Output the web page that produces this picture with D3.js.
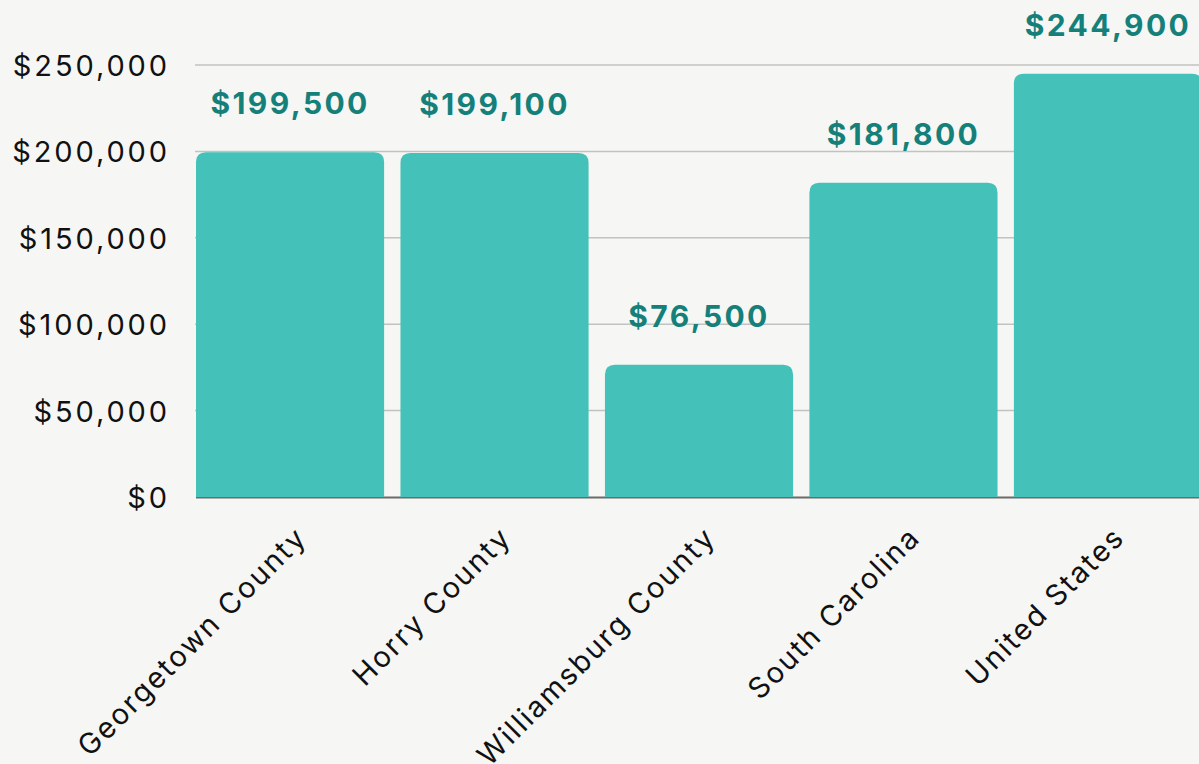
<!DOCTYPE html>
<html>
<head>
<meta charset="utf-8">
<script src="https://cdn.jsdelivr.net/npm/d3@7"></script>
<style>
  html, body { margin: 0; padding: 0; background: #f6f7f4; overflow: hidden; }
  svg { display: block; }
</style>
</head>
<body>
<div id="chart"></div>
<script>
// chart values
var places = ["Georgetown County", "Horry County", "Williamsburg County", "South Carolina", "United States"];
var medianValues = [199500, 199100, 76500, 181800, 244900];
var yTicks = [0, 50000, 100000, 150000, 200000, 250000];

var width = 1199;
var height = 764;

var margin = { top: 65, right: -3, bottom: 267, left: 196 };

var chartWidth = width - margin.left - margin.right;
var chartHeight = height - margin.top - margin.bottom;

var svg = d3.select("#chart")
  .append("svg")
  .attr("width", width)
  .attr("height", height);

svg.append("rect")
  .attr("width", width)
  .attr("height", height)
  .attr("fill", "#f6f7f4");

var chartGroup = svg.append("g")
  .attr("transform", `translate(${margin.left}, ${margin.top})`);

var x = d3.scaleBand()
  .domain(places)
  .range([0, chartWidth])
  .paddingInner(0.08)
  .paddingOuter(0);

var y = d3.scaleLinear()
  .domain([0, 250000])
  .range([chartHeight, 0]);

var money = d3.format("$,");

// gridlines
chartGroup.selectAll(".grid")
  .data(yTicks.filter(function(d) { return d > 0; }))
  .enter()
  .append("line")
  .attr("class", "grid")
  .attr("x1", -1)
  .attr("x2", width)
  .attr("y1", function(d) { return y(d); })
  .attr("y2", function(d) { return y(d); })
  .attr("stroke", "#c2c2c0")
  .attr("stroke-width", 1.5);

// y axis labels
var yAxis = d3.axisLeft(y)
  .tickValues(yTicks)
  .tickFormat(money)
  .tickSize(0)
  .tickPadding(26);

var yAxisG = chartGroup.append("g").call(yAxis);
yAxisG.select(".domain").remove();
yAxisG.selectAll("text")
  .attr("font-family", "Inter, 'Open Sans', sans-serif")
  .attr("font-size", 29)
  .attr("letter-spacing", 2.9)
  .attr("fill", "#111")
  .attr("dy", "0.36em");

// baseline
chartGroup.append("line")
  .attr("x1", 0)
  .attr("x2", width)
  .attr("y1", chartHeight + 0.5)
  .attr("y2", chartHeight + 0.5)
  .attr("stroke", "#6b6b6b")
  .attr("stroke-width", 2);

// bars with rounded top corners
function topRounded(x0, y0, w, h, r) {
  r = Math.min(r, h, w / 2);
  return "M" + x0 + "," + (y0 + h) +
    "V" + (y0 + r) +
    "Q" + x0 + "," + y0 + " " + (x0 + r) + "," + y0 +
    "H" + (x0 + w - r) +
    "Q" + (x0 + w) + "," + y0 + " " + (x0 + w) + "," + (y0 + r) +
    "V" + (y0 + h) + "Z";
}

var data = places.map(function(p, i) { return { place: p, value: medianValues[i] }; });

chartGroup.selectAll(".bar")
  .data(data)
  .enter()
  .append("path")
  .attr("class", "bar")
  .attr("d", function(d) {
    return topRounded(x(d.place), y(d.value), x.bandwidth(), chartHeight - y(d.value), 10);
  })
  .attr("fill", "#44c1b9");

// value labels
chartGroup.selectAll(".value")
  .data(data)
  .enter()
  .append("text")
  .attr("class", "value")
  .attr("x", function(d) { return x(d.place) + x.bandwidth() / 2; })
  .attr("y", function(d) { return y(d.value) - 38; })
  .attr("text-anchor", "middle")
  .attr("font-family", "Inter, 'Open Sans', sans-serif")
  .attr("font-weight", 700)
  .attr("font-size", 30)
  .attr("letter-spacing", 2.4)
  .attr("fill", "#15807a")
  .text(function(d) { return money(d.value); });

// category labels, rotated
chartGroup.selectAll(".cat")
  .data(data)
  .enter()
  .append("text")
  .attr("class", "cat")
  .attr("transform", function(d) {
    var cx = x(d.place) + x.bandwidth() / 2 + 4;
    return `translate(${cx}, ${chartHeight + 28}) rotate(-45)`;
  })
  .attr("text-anchor", "end")
  .attr("dy", "0.7em")
  .attr("font-family", "Inter, 'Open Sans', sans-serif")
  .attr("font-size", 29)
  .attr("letter-spacing", 2)
  .attr("fill", "#111")
  .text(function(d) { return d.place; });
</script>
</body>
</html>
